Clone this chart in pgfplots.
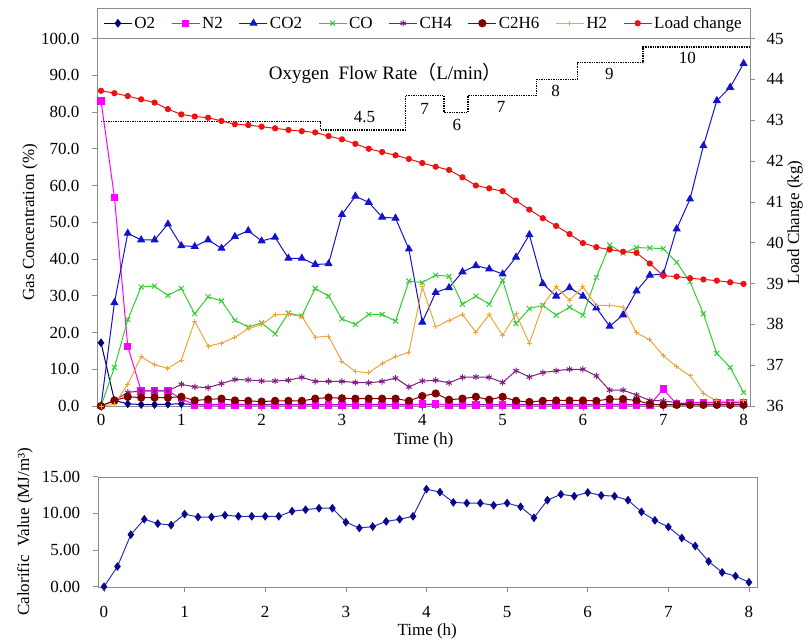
\documentclass[border=0pt]{standalone}
\usepackage{pgfplots}
\usepackage{pgfplotstable}
\pgfplotsset{compat=1.18}
\usepackage{fontspec}
\setmainfont{Liberation Serif}
\newfontfamily\cjk{Noto Sans CJK SC}
\definecolor{cO2}{HTML}{00007F}
\definecolor{cN2}{HTML}{FF00FF}
\definecolor{cCO2}{HTML}{1212D0}
\definecolor{cCO}{HTML}{33CC33}
\definecolor{cCH4}{HTML}{7F1F7F}
\definecolor{cC2H6}{HTML}{800000}
\definecolor{cH2}{HTML}{F0A53A}
\definecolor{cLoad}{HTML}{EE1111}
\definecolor{cCalL}{HTML}{3030B8}
\definecolor{cCalM}{HTML}{08088C}
\definecolor{frame}{HTML}{8C8C8C}

\pgfplotstableread{
t O2 N2 CO2 CO CH4 C2H6 H2 Load Cal
0 17.2 83.0 0 0 0 0 0 43.72 0
0.167 1.5 56.8 28.1 10.5 1.5 1.5 0.5 43.66 2.75
0.333 0.6 16.2 47.0 23.5 3.7 2.5 5.9 43.59 7.1
0.5 0.4 4.1 45.2 32.4 4.1 2.3 13.4 43.51 9.2
0.667 0.4 4.1 45.2 32.6 4.1 2.3 11.2 43.43 8.6
0.833 0.5 4.1 49.5 30.1 4.1 2.3 10.3 43.27 8.4
1 0.6 2.0 43.6 32.0 5.9 2.5 12.5 43.14 9.9
1.167 0.4 0.3 43.4 25.1 5.2 1.5 23.1 43.09 9.5
1.333 0.3 0.3 45.2 29.7 5.0 1.8 16.3 43.06 9.5
1.5 0.4 0.3 42.9 28.6 6.1 2.0 17.1 42.98 9.75
1.667 0.4 0.3 46.1 23.3 7.2 1.5 18.7 42.90 9.6
1.833 0.4 0.3 47.7 21.5 7.1 1.4 21.0 42.88 9.6
2 0.4 0.3 44.9 22.6 6.8 1.2 22.2 42.84 9.6
2.167 0.4 0.3 45.9 19.6 6.8 1.4 24.8 42.80 9.6
2.333 0.4 0.3 40.2 25.3 7.0 1.4 24.9 42.76 10.3
2.5 0.4 0.3 40.2 24.5 7.8 1.4 24.4 42.73 10.5
2.667 0.4 0.3 38.5 32.0 6.7 2.0 18.7 42.70 10.7
2.833 0.4 0.3 38.7 29.9 6.7 2.3 19.0 42.61 10.7
3 0.4 0.3 52.1 23.7 6.7 2.1 12.1 42.53 8.8
3.167 0.4 0.3 57.1 22.2 6.4 2.0 9.4 42.42 8.0
3.333 0.4 0.3 55.4 24.9 6.3 2.0 9.0 42.30 8.2
3.5 0.4 0.3 51.4 24.9 6.7 2.0 11.6 42.22 8.9
3.667 0.4 0.3 51.1 23.1 7.6 2.0 13.4 42.14 9.2
3.833 0.4 0.3 42.7 34.0 5.2 1.4 14.6 42.05 9.6
4 0.4 0.5 22.8 33.6 6.8 2.7 32.4 41.95 13.3
4.167 0.4 0.5 30.9 35.6 7.0 3.4 21.5 41.86 12.9
4.333 0.4 0.3 32.2 35.3 6.3 1.7 23.3 41.78 11.5
4.5 0.4 0.3 36.5 27.7 7.8 2.0 24.9 41.60 11.4
4.667 0.4 0.3 38.2 29.9 7.9 2.5 20.1 41.40 11.4
4.833 0.4 0.3 37.3 27.7 7.8 1.7 24.9 41.33 11.1
5 0.4 0.3 35.9 34.2 6.4 2.5 19.2 41.26 11.4
5.167 0.4 0.3 40.5 22.4 9.6 1.4 25.1 41.03 10.9
5.333 0.4 0.3 46.6 26.5 7.9 1.1 17.1 40.81 9.4
5.5 0.4 0.3 33.3 27.4 9.1 1.4 27.4 40.60 11.8
5.667 0.4 0.3 29.9 24.7 9.6 1.5 32.4 40.41 12.6
5.833 0.4 0.3 32.2 26.9 10.0 1.5 28.8 40.21 12.35
6 0.4 0.3 29.9 24.7 10.0 1.5 32.4 39.99 12.85
6.167 0.4 0.3 26.7 35.0 8.2 1.4 27.4 39.89 12.45
6.333 0.4 0.3 21.7 43.8 4.3 1.9 27.4 39.83 12.35
6.5 0.4 0.3 24.8 41.6 4.3 1.9 26.9 39.78 11.8
6.667 0.4 0.3 31.3 43.1 3.0 1.5 19.9 39.75 10.2
6.833 0.4 0.3 35.6 43.0 1.5 0.5 18.0 39.49 9.05
7 0.4 4.6 35.9 42.8 1.4 0.3 13.7 39.19 8.15
7.167 0.4 0.5 48.2 39.1 0.9 0.3 10.7 39.17 6.65
7.333 0.4 1.0 56.3 33.8 0.5 0.3 8.2 39.13 5.55
7.5 0.4 1.0 70.8 25.1 0.5 0.3 3.4 39.10 3.45
7.667 0.4 1.0 83.1 14.3 0.5 0.3 1.4 39.07 1.95
7.833 0.4 1.0 86.7 10.5 0.5 0.3 1.2 39.03 1.45
8 0.4 1.0 93.2 3.7 0.5 0.3 1.4 38.99 0.6
}\data

\pgfplotsset{
  base/.style={
    scale only axis,
    axis line style={draw=frame,-},
    tick style={draw=frame, line width=0.6pt},
    major tick length=5pt,
    tick align=outside,
    /pgf/number format/assume math mode=true,
    tick label style={font=\fontsize{17}{19}\selectfont},
    label style={font=\fontsize{16}{18}\selectfont},
  },
  sO2/.style={color=cO2, line width=1pt, mark=diamond*, mark size=3.6pt},
  sN2/.style={color=cN2, line width=1pt, mark=square*, mark size=3.2pt},
  sCO2/.style={color=cCO2, line width=1pt, mark=triangle*, mark size=3.8pt},
  sCO/.style={color=cCO, line width=1pt, mark=x, mark size=3.5pt},
  sCH4/.style={color=cCH4, line width=1pt, mark=asterisk, mark size=3.2pt},
  sC2H6/.style={color=cC2H6, line width=1pt, mark=*, mark size=3.6pt},
  sH2/.style={color=cH2, line width=1pt, mark=+, mark size=2.5pt},
  sLoad/.style={color=cLoad, line width=1pt, mark=*, mark size=2.6pt},
}

\begin{document}
\begin{tikzpicture}[font=\fontsize{17}{19}\selectfont]
\path[use as bounding box] (0pt,0pt) rectangle (808pt,-644pt);

% ---------- top: gas concentrations ----------
\begin{axis}[base,
  at={(97pt,-38.5pt)}, anchor=north west,
  width=653pt, height=367.5pt,
  xmin=-0.05, xmax=8.08, ymin=0, ymax=100,
  xtick={0,1,...,8}, ytick={0,10,...,100},
  xtick pos=bottom, ytick pos=left,
  yticklabel style={xshift=-9pt, /pgf/number format/.cd, fixed, fixed zerofill, precision=1},
  xlabel={Time (h)}, ylabel={Gas Concentration (\%)},
  every axis x label/.style={at={(axis description cs:0.5,-0.0925)}, anchor=center},
  every axis y label/.style={at={(axis description cs:-0.1026,0.5)}, rotate=90, anchor=center},
  clip=false,
]
\addplot[black, densely dotted, line width=1.4pt, const plot] coordinates {
 (0,77.4) (2.73,75.1) (3.79,84.5) (4.27,79.9) (4.57,84.5) (5.42,88.8) (5.93,93.4) (6.75,97.7) (8.08,97.7)};
\addplot[sO2] table[x=t,y=O2]{\data};
\addplot[sN2] table[x=t,y=N2]{\data};
\addplot[sCO2] table[x=t,y=CO2]{\data};
\addplot[sCO] table[x=t,y=CO]{\data};
\addplot[sCH4] table[x=t,y=CH4]{\data};
\addplot[sC2H6] table[x=t,y=C2H6]{\data};
\addplot[sH2] table[x=t,y=H2]{\data};
\node[font=\fontsize{19}{21}\selectfont] at (axis cs:3.54,90.4) {Oxygen\ \ Flow Rate{\cjk （}L/min{\cjk ）}};
\node at (axis cs:3.28,78.5) {4.5};
\node at (axis cs:4.03,80.8) {7};
\node at (axis cs:4.43,76.5) {6};
\node at (axis cs:4.98,81.3) {7};
\node at (axis cs:5.66,85.8) {8};
\node at (axis cs:6.33,90.4) {9};
\node at (axis cs:7.30,94.7) {10};
\end{axis}

\begin{axis}[base,
  at={(97pt,-38.5pt)}, anchor=north west,
  width=653pt, height=367.5pt,
  xmin=-0.05, xmax=8.08, ymin=36, ymax=45,
  ytick={36,...,45},
  axis x line=none, axis y line*=right,
  yticklabel style={xshift=8pt},
  ylabel={Load Change (kg)},
  every axis y label/.style={at={(axis description cs:1.069,0.5)}, rotate=90, anchor=center},
  clip=false,
  legend columns=8,
  legend image code/.code={\draw[mark repeat=2,mark phase=2,#1] plot coordinates {(0pt,0pt) (14pt,0pt) (28pt,0pt)};},
  legend style={at={(0.5,1)}, anchor=center, yshift=15.25pt, draw=none, fill=none,
    font=\fontsize{17}{19}\selectfont,
    /tikz/every even column/.append style={column sep=14pt}},
]
\draw[frame] (rel axis cs:0,1) rectangle ([yshift=30.5pt]rel axis cs:1,1);
\addlegendimage{sO2}\addlegendentry{O2}
\addlegendimage{sN2}\addlegendentry{N2}
\addlegendimage{sCO2}\addlegendentry{CO2}
\addlegendimage{sCO}\addlegendentry{CO}
\addlegendimage{sCH4}\addlegendentry{CH4}
\addlegendimage{sC2H6}\addlegendentry{C2H6}
\addlegendimage{sH2}\addlegendentry{H2}
\addplot[sLoad] table[x=t,y=Load]{\data};
\addlegendentry{Load change}
\end{axis}

% ---------- bottom: calorific value ----------
\begin{axis}[base,
  at={(97.7pt,-476.7pt)}, anchor=north west,
  width=659pt, height=110pt,
  xmin=-0.078, xmax=8.096, ymin=0, ymax=15,
  xtick={0,1,...,8}, ytick={0,5,10,15},
  xtick pos=bottom, ytick pos=left,
  xticklabel style={yshift=-11pt},
  yticklabel style={xshift=-9pt, /pgf/number format/.cd, fixed, fixed zerofill, precision=2},
  xlabel={Time (h)}, ylabel={Calorific\ \ Value (MJ/m³)},
  every axis x label/.style={at={(axis description cs:0.5,-0.41)}, anchor=center},
  every axis y label/.style={at={(axis description cs:-0.1103,0.5)}, rotate=90, anchor=center},
]
\addplot[color=cCalL, line width=1pt, mark=diamond*, mark size=3.6pt,
  mark options={color=cCalM, fill=cCalM}] table[x=t,y=Cal]{\data};
\end{axis}
\end{tikzpicture}
\end{document}
